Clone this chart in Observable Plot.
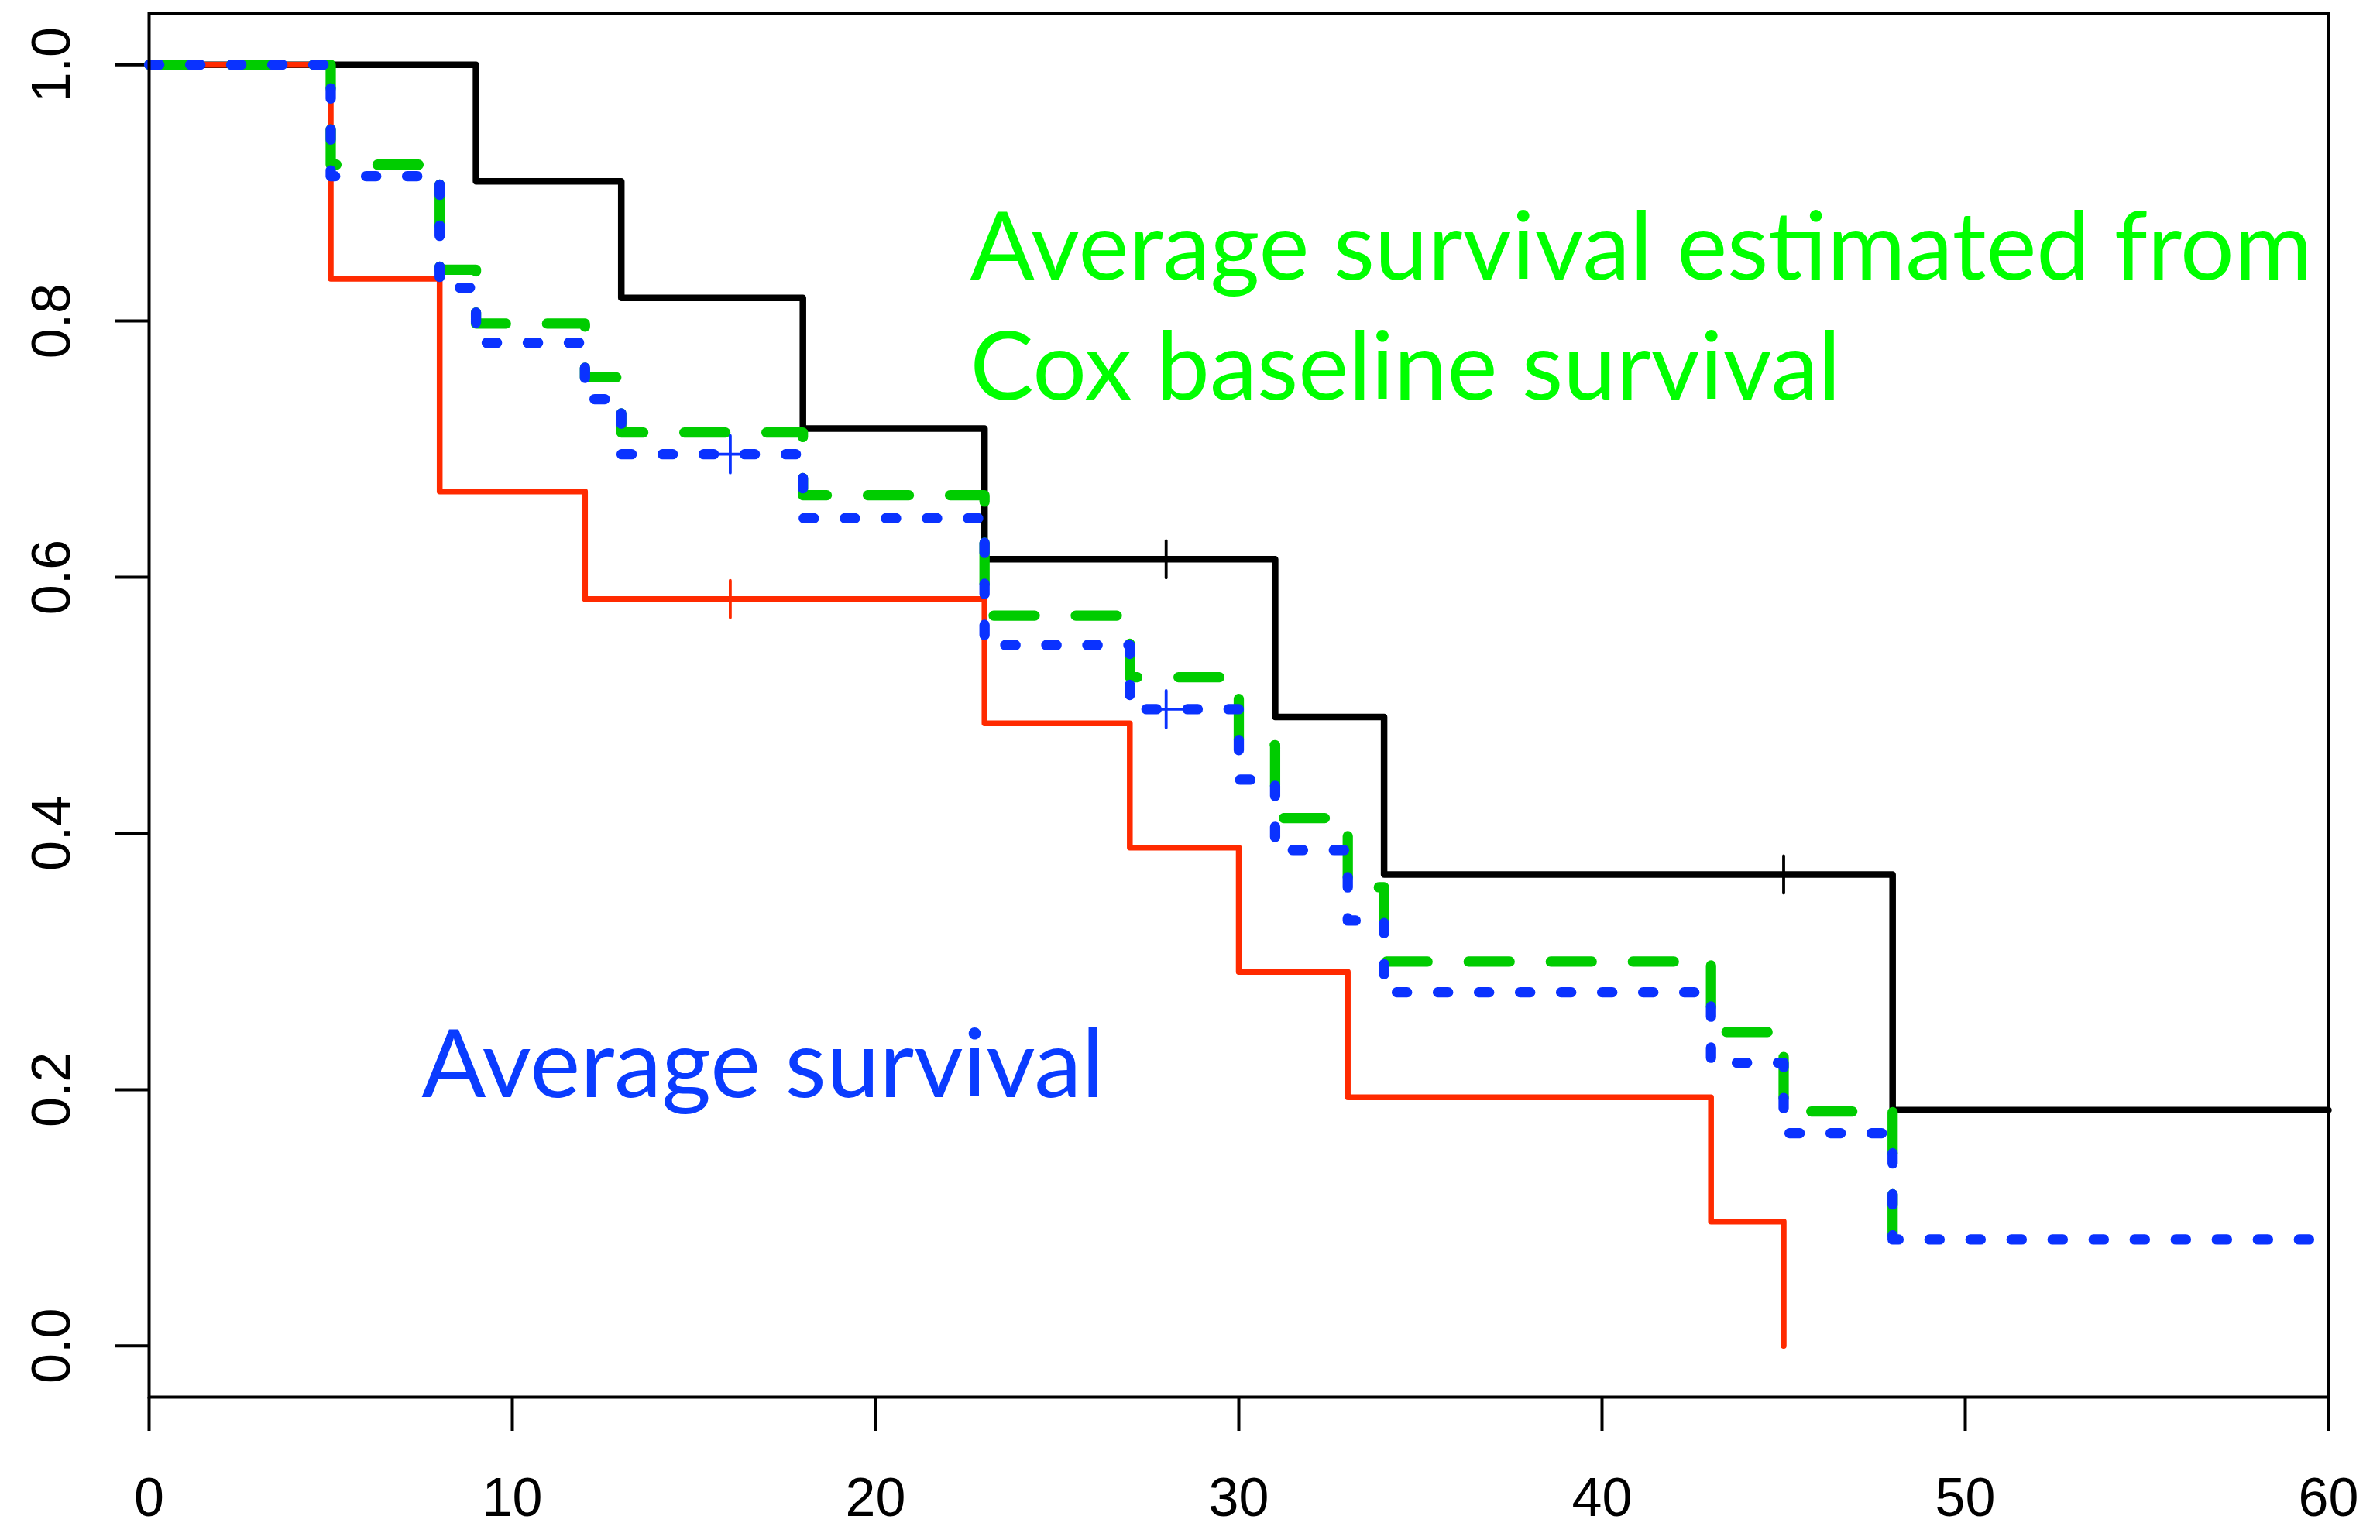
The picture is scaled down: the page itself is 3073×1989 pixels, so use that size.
<!DOCTYPE html>
<html>
<head>
<meta charset="utf-8">
<script src="https://cdn.jsdelivr.net/npm/d3@7"></script>
<script src="https://cdn.jsdelivr.net/npm/@observablehq/plot@0.6"></script>
<style>
  html, body { margin: 0; padding: 0; background: #ffffff; }
</style>
</head>
<body>
<div id="chart"></div>
<script>
// Kaplan–Meier curve, group 1 (black)
const blackTimes = [0, 9, 13, 18, 23, 31, 34, 48, 60];
const blackSurv  = [1, 0.909, 0.818, 0.716, 0.614, 0.491, 0.368, 0.184, 0.184];
const blackCensorTimes = [28, 45];
const blackCensorSurv  = [0.614, 0.368];

// Kaplan–Meier curve, group 2 (red)
const redTimes = [0, 5, 8, 12, 23, 27, 30, 33, 43, 45];
const redSurv  = [1, 0.833, 0.667, 0.583, 0.486, 0.389, 0.292, 0.194, 0.097, 0];
const redCensorTimes = [16];
const redCensorSurv  = [0.583];

// Average survival estimated from Cox baseline survival (green, dashed)
const greenTimes = [0, 5, 8, 9, 12, 13, 18, 23, 27, 30, 31, 33, 34, 43, 45, 48];
const greenSurv  = [1, 0.922, 0.840, 0.798, 0.756, 0.713, 0.664, 0.570, 0.522, 0.469, 0.412, 0.358, 0.300, 0.245, 0.183, 0.083];

// Average survival (blue, dotted)
const blueTimes = [0, 5, 8, 9, 12, 13, 18, 23, 27, 30, 31, 33, 34, 43, 45, 48, 60];
const blueSurv  = [1, 0.913, 0.826, 0.783, 0.739, 0.696, 0.646, 0.547, 0.497, 0.442, 0.387, 0.332, 0.276, 0.221, 0.166, 0.083, 0.083];
const blueCensorTimes = [16, 28];
const blueCensorSurv  = [0.696, 0.497];

// Axis ticks
const xTicks = [0, 10, 20, 30, 40, 50, 60];
const yTicks = [0, 0.2, 0.4, 0.6, 0.8, 1.0];

// Annotation texts
const greenLabel = "Average survival estimated from\nCox baseline survival";
const blueLabel = "Average survival";

const rows = (t, s) => t.map((v, i) => ({t: v, s: s[i]}));

const plusSymbol = {
  draw(context, size) {
    const r = Math.sqrt(size / Math.PI);
    context.moveTo(-r, 0); context.lineTo(r, 0);
    context.moveTo(0, -r); context.lineTo(0, r);
  }
};

const colBlack = "#000000";
const colRed = "#ff2a00";
const colGreenLine = "#00cc00";
const colBlueLine = "#0a32ff";
const colGreenText = "#00ff00";
const colBlueText = "#0a3cff";

const lineOpts = {x: "t", y: "s", curve: "step-after", strokeLinecap: "round", strokeLinejoin: "round"};
const censorOpts = {x: "t", y: "s", symbol: plusSymbol, r: 24, fill: "none", strokeWidth: 3.8, strokeLinecap: "round"};

const chart = Plot.plot({
  width: 3073,
  height: 1989,
  marginLeft: 192,
  marginRight: 67,
  marginTop: 17,
  marginBottom: 185,
  style: {fontFamily: "'Liberation Sans', Arial, Helvetica, sans-serif", fontSize: "70px", background: "#ffffff", color: "#000000"},
  x: {domain: [0, 60]},
  y: {domain: [-0.04, 1.04]},
  marks: [
    Plot.axisX({ticks: xTicks, tickSize: 44, tickPadding: 60, fontSize: 70, strokeWidth: 4, label: null, tickFormat: d3.format("d")}),
    Plot.axisY({ticks: yTicks, tickSize: 44, tickPadding: 59, tickRotate: -90, fontSize: 70, strokeWidth: 4, label: null, tickFormat: d3.format(".1f")}),
    Plot.line(rows(blackTimes, blackSurv), {...lineOpts, stroke: colBlack, strokeWidth: 8.5}),
    Plot.line(rows(redTimes, redSurv), {...lineOpts, stroke: colRed, strokeWidth: 7.5}),
    Plot.dot(rows(blackCensorTimes, blackCensorSurv), {...censorOpts, stroke: colBlack}),
    Plot.dot(rows(redCensorTimes, redCensorSurv), {...censorOpts, stroke: colRed}),
    Plot.line(rows(greenTimes, greenSurv), {...lineOpts, stroke: colGreenLine, strokeWidth: 13.25, strokeDasharray: "53 53"}),
    Plot.line(rows(blueTimes, blueSurv), {...lineOpts, stroke: colBlueLine, strokeWidth: 13.25, strokeDasharray: "13.25 39.75"}),
    Plot.dot(rows(blueCensorTimes, blueCensorSurv), {...censorOpts, stroke: colBlueLine}),
    Plot.text([greenLabel], {x: 22.6, y: 0.739, text: d => d, textAnchor: "start", lineAnchor: "bottom", lineHeight: 1.26, fontSize: 123, fontFamily: "Lato, 'Open Sans', sans-serif", fill: colGreenText}),
    Plot.text([blueLabel], {x: 7.5, y: 0.194, text: d => d, textAnchor: "start", lineAnchor: "bottom", fontSize: 123, fontFamily: "Lato, 'Open Sans', sans-serif", fill: colBlueText}),
    Plot.frame({stroke: "#000000", strokeWidth: 4})
  ]
});

document.getElementById("chart").appendChild(chart);
</script>
</body>
</html>
